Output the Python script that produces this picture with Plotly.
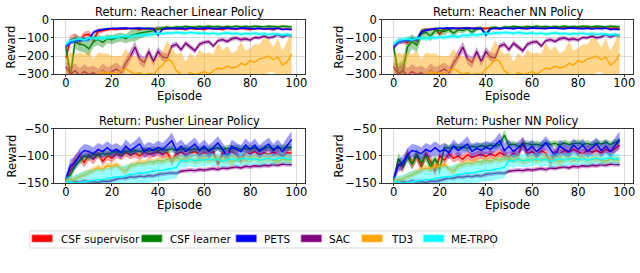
import plotly.graph_objects as go

# ---------------- data ----------------
EPISODES = list(range(0, 100, 2))

SERIES_NAMES = ["CSF supervisor", "CSF learner", "PETS", "SAC", "TD3", "ME-TRPO"]

PANEL_TITLES = ["Return: Reacher Linear Policy", "Return: Reacher NN Policy",
                "Return: Pusher Linear Policy", "Return: Pusher NN Policy"]
X_LABEL = "Episode"
Y_LABEL = "Reward"

X_TICKS = [0, 20, 40, 60, 80, 100]
REACHER_Y_TICKS = [0, -100, -200, -300]
REACHER_Y_LABELS = ["0", "\u2212100", "\u2212200", "\u2212300"]
PUSHER_Y_TICKS = [-50, -100, -150]
PUSHER_Y_LABELS = ["\u221250", "\u2212100", "\u2212150"]

# ---- Reacher (shared baselines) ----
REACHER_PETS = [-148, -125, -118, -112, -108, -110, -70, -58, -52, -50,
                -48, -47, -50, -46, -49, -47, -46, -49, -47, -50,
                -85, -52, -47, -49, -46, -47, -50, -46, -48, -50,
                -46, -48, -47, -50, -46, -48, -47, -50, -46, -48,
                -47, -50, -47, -52, -48, -50, -47, -55, -52, -55]
REACHER_PETS_SD = [12, 12, 10, 10, 10, 10, 12, 8, 6, 5,
                   5, 5, 5, 5, 5, 5, 5, 5, 5, 5,
                   10, 5, 5, 5, 5, 5, 5, 5, 5, 5,
                   5, 5, 5, 5, 5, 5, 5, 5, 5, 5,
                   5, 5, 5, 5, 5, 5, 5, 6, 6, 6]

REACHER_SAC = [-258, -300, -280, -305, -285, -300, -290, -310, -280, -300,
               -285, -270, -290, -240, -200, -150, -215, -235, -175, -230,
               -175, -205, -210, -145, -135, -165, -130, -150, -170, -135,
               -125, -120, -145, -115, -110, -120, -105, -100, -110, -105,
               -112, -98, -100, -90, -100, -95, -82, -95, -85, -90]
REACHER_SAC_SD = [30, 40, 40, 40, 40, 40, 40, 40, 40, 40,
                  35, 35, 35, 30, 30, 30, 30, 30, 25, 25,
                  25, 25, 25, 15, 15, 15, 15, 15, 15, 15,
                  12, 12, 12, 12, 12, 12, 12, 12, 12, 12,
                  10, 10, 10, 10, 10, 10, 10, 10, 10, 10]

REACHER_TD3 = [-330, -320, -310, -330, -320, -310, -325, -300, -285, -295,
               -290, -300, -280, -270, -285, -300, -290, -305, -295, -300,
               -270, -250, -215, -230, -280, -300, -310, -290, -300, -295,
               -285, -300, -280, -265, -270, -255, -265, -260, -240, -250,
               -225, -235, -215, -210, -200, -220, -205, -250, -230, -190]
REACHER_TD3_SD = [130, 140, 120, 150, 130, 140, 110, 120, 100, 110,
                  90, 100, 80, 110, 90, 100, 80, 90, 100, 70,
                  70, 80, 100, 70, 90, 120, 80, 110, 90, 130,
                  100, 120, 90, 140, 100, 110, 80, 90, 120, 80,
                  70, 100, 80, 110, 90, 70, 100, 80, 110, 120]

REACHER_METRPO = [-135, -115, -110, -105, -110, -102, -100, -105, -98, -100,
                  -95, -98, -92, -90, -95, -85, -88, -82, -85, -80,
                  -75, -78, -72, -75, -70, -72, -75, -70, -73, -76,
                  -72, -78, -74, -80, -76, -72, -78, -75, -80, -76,
                  -78, -74, -80, -77, -82, -78, -80, -84, -80, -86]
REACHER_METRPO_SD = [15, 15, 14, 14, 12, 12, 12, 12, 12, 12,
                     12, 12, 12, 12, 12, 12, 12, 12, 12, 12,
                     10, 10, 10, 10, 10, 10, 10, 10, 10, 10,
                     10, 10, 10, 10, 10, 10, 10, 10, 10, 10,
                     10, 10, 10, 10, 10, 10, 10, 10, 10, 10]

# ---- Reacher, policy specific ----
REACHER_LIN_SUP = [-210, -110, -100, -120, -85, -80, -110, -65, -60, -55,
                   -52, -55, -50, -52, -48, -50, -55, -48, -52, -50,
                   -48, -55, -50, -48, -52, -50, -55, -48, -52, -50,
                   -55, -48, -52, -50, -55, -48, -50, -53, -48, -52,
                   -55, -50, -48, -52, -50, -55, -48, -52, -50, -52]
REACHER_LIN_SUP_SD = [30, 25, 25, 25, 20, 20, 20, 15, 10, 8,
                      8, 8, 6, 6, 6, 6, 6, 6, 6, 6,
                      6, 6, 6, 6, 6, 6, 6, 6, 6, 6,
                      6, 6, 6, 6, 6, 6, 6, 6, 6, 6,
                      6, 6, 6, 6, 6, 6, 6, 6, 6, 6]

REACHER_LIN_LRN = [-150, -310, -120, -135, -140, -160, -120, -110, -125, -105,
                   -110, -100, -95, -105, -90, -80, -75, -70, -65, -60,
                   -50, -45, -42, -45, -40, -42, -38, -40, -42, -38,
                   -40, -36, -40, -38, -42, -38, -40, -36, -40, -38,
                   -40, -36, -38, -40, -36, -38, -40, -36, -38, -40]
REACHER_LIN_LRN_SD = [20, 60, 40, 40, 40, 40, 30, 30, 30, 25,
                      25, 25, 25, 25, 30, 40, 30, 25, 20, 20,
                      15, 10, 10, 8, 8, 8, 8, 8, 8, 8,
                      8, 8, 8, 8, 8, 8, 8, 8, 8, 8,
                      8, 8, 8, 8, 8, 8, 8, 8, 8, 8]

REACHER_NN_SUP = [-155, -120, -118, -125, -110, -115, -65, -55, -52, -50,
                  -80, -50, -48, -50, -47, -49, -46, -48, -50, -47,
                  -49, -46, -48, -50, -47, -45, -48, -46, -49, -47,
                  -45, -48, -46, -44, -47, -45, -48, -46, -44, -47,
                  -45, -48, -46, -44, -47, -45, -48, -46, -47, -50]
REACHER_NN_SUP_SD = [20, 15, 15, 15, 15, 15, 15, 10, 8, 8,
                     20, 8, 6, 6, 6, 6, 6, 6, 6, 6,
                     6, 6, 6, 6, 6, 6, 6, 6, 6, 6,
                     6, 6, 6, 6, 6, 6, 6, 6, 6, 6,
                     6, 6, 6, 6, 6, 6, 6, 6, 6, 6]

REACHER_NN_LRN = [-150, -300, -280, -150, -120, -140, -80, -70, -90, -60,
                  -60, -65, -55, -75, -55, -60, -50, -70, -50, -45,
                  -80, -45, -42, -50, -40, -42, -38, -40, -42, -38,
                  -40, -36, -40, -38, -42, -38, -40, -36, -40, -38,
                  -40, -36, -38, -40, -36, -38, -40, -36, -38, -40]
REACHER_NN_LRN_SD = [20, 60, 60, 50, 40, 40, 30, 25, 30, 20,
                     20, 20, 15, 20, 15, 15, 12, 15, 12, 10,
                     15, 8, 8, 8, 8, 8, 8, 8, 8, 8,
                     8, 8, 8, 8, 8, 8, 8, 8, 8, 8,
                     8, 8, 8, 8, 8, 8, 8, 8, 8, 8]

# ---- Pusher (shared baselines) ----
PUSHER_PETS = [-142, -118, -112, -98, -90, -92, -96, -88, -92, -85,
               -92, -88, -94, -82, -90, -84, -78, -92, -86, -90,
               -84, -88, -80, -72, -90, -82, -92, -85, -78, -90,
               -82, -92, -85, -76, -88, -100, -82, -88, -92, -80,
               -88, -80, -92, -85, -78, -90, -82, -92, -80, -70]
PUSHER_PETS_SD = [8, 12, 12, 12, 12, 12, 12, 12, 12, 12,
                  12, 12, 12, 12, 12, 12, 14, 12, 12, 12,
                  12, 12, 12, 15, 14, 12, 12, 12, 12, 12,
                  12, 12, 12, 12, 12, 12, 12, 12, 12, 12,
                  12, 12, 12, 12, 12, 12, 12, 12, 14, 15]

PUSHER_SAC = [-146, -148, -147, -149, -146, -148, -147, -149, -146, -147,
              -145, -143, -140, -141, -138, -139, -137, -138, -136, -137,
              -134, -133, -132, -131, -132, -128, -127, -126, -127, -125,
              -126, -124, -123, -125, -122, -123, -121, -120, -122, -119,
              -120, -118, -119, -117, -118, -116, -117, -115, -116, -116]
PUSHER_SAC_SD = [4, 4, 4, 4, 4, 4, 4, 4, 4, 4,
                 4, 4, 4, 4, 4, 4, 4, 4, 4, 4,
                 4, 4, 4, 4, 4, 4, 4, 4, 4, 4,
                 4, 4, 4, 4, 4, 4, 4, 4, 4, 4,
                 4, 4, 4, 4, 4, 4, 4, 4, 4, 4]

PUSHER_TD3 = [-145, -144, -142, -138, -135, -130, -126, -122, -125, -118,
              -120, -116, -124, -128, -118, -116, -112, -114, -110, -112,
              -108, -110, -106, -108, -104, -106, -108, -105, -110, -107,
              -105, -108, -106, -104, -108, -106, -110, -107, -105, -108,
              -106, -104, -108, -106, -105, -108, -110, -106, -107, -108]
PUSHER_TD3_SD = [5, 5, 6, 6, 6, 6, 6, 6, 6, 6,
                 6, 6, 6, 8, 6, 6, 6, 6, 6, 6,
                 6, 6, 6, 6, 6, 6, 6, 6, 6, 6,
                 6, 6, 6, 6, 6, 8, 10, 6, 6, 6,
                 6, 6, 6, 6, 6, 6, 6, 6, 6, 6]

PUSHER_METRPO = [-146, -148, -150, -149, -147, -146, -145, -143, -144, -141,
                 -140, -138, -139, -136, -134, -133, -131, -132, -129, -128,
                 -126, -127, -124, -123, -121, -108, -110, -106, -109, -107,
                 -108, -105, -108, -106, -110, -107, -105, -108, -106, -104,
                 -107, -105, -108, -106, -104, -107, -105, -103, -106, -105]
PUSHER_METRPO_SD = [8, 12, 15, 18, 20, 20, 20, 20, 20, 20,
                    20, 20, 20, 20, 20, 20, 20, 20, 20, 20,
                    20, 20, 20, 20, 20, 12, 12, 12, 12, 12,
                    12, 12, 12, 12, 12, 12, 12, 12, 12, 12,
                    10, 10, 10, 10, 10, 10, 10, 10, 10, 10]

# ---- Pusher, policy specific ----
PUSHER_LIN_SUP = [-145, -125, -108, -100, -112, -98, -106, -95, -110, -100,
                  -104, -96, -100, -94, -98, -95, -100, -93, -97, -95,
                  -92, -97, -94, -110, -96, -93, -98, -95, -92, -98,
                  -94, -96, -92, -115, -95, -98, -93, -97, -108, -94,
                  -96, -92, -98, -94, -97, -93, -96, -100, -94, -95]
PUSHER_LIN_SUP_SD = [5, 10, 10, 10, 10, 10, 10, 8, 8, 8,
                     8, 8, 8, 8, 8, 8, 8, 8, 8, 8,
                     8, 8, 8, 8, 8, 8, 8, 8, 8, 8,
                     8, 8, 8, 10, 8, 8, 8, 8, 8, 8,
                     8, 8, 8, 8, 8, 8, 8, 8, 8, 8]

PUSHER_LIN_LRN = [-145, -135, -118, -108, -100, -102, -97, -99, -95, -97,
                  -94, -92, -95, -91, -93, -90, -92, -89, -91, -88,
                  -90, -88, -89, -87, -90, -88, -86, -89, -87, -88,
                  -86, -88, -87, -85, -88, -86, -87, -85, -88, -86,
                  -87, -85, -88, -86, -84, -87, -85, -86, -84, -85]
PUSHER_LIN_LRN_SD = [4, 8, 8, 8, 7, 7, 6, 6, 6, 6,
                     6, 6, 6, 6, 6, 6, 6, 6, 6, 6,
                     6, 6, 6, 6, 6, 6, 6, 6, 6, 6,
                     6, 6, 6, 6, 6, 6, 6, 6, 6, 6,
                     6, 6, 6, 6, 6, 6, 6, 6, 6, 6]

PUSHER_NN_SUP = [-145, -115, -120, -95, -115, -100, -120, -95, -110, -128,
                 -100, -108, -96, -104, -100, -106, -98, -103, -100, -97,
                 -101, -96, -100, -94, -98, -102, -95, -99, -75, -96,
                 -92, -98, -90, -95, -112, -92, -96, -90, -94, -88,
                 -92, -96, -89, -93, -90, -94, -88, -92, -86, -80]
PUSHER_NN_SUP_SD = [5, 10, 10, 10, 10, 10, 10, 10, 10, 10,
                    8, 8, 8, 8, 8, 8, 8, 8, 8, 8,
                    8, 8, 8, 8, 8, 8, 8, 8, 12, 8,
                    8, 8, 8, 8, 10, 8, 8, 8, 8, 8,
                    8, 8, 8, 8, 8, 8, 8, 8, 8, 8]

PUSHER_NN_LRN = [-145, -105, -118, -100, -115, -96, -112, -100, -120, -105,
                 -125, -84, -86, -82, -85, -83, -86, -82, -84, -81,
                 -83, -80, -82, -79, -62, -80, -78, -82, -79, -77,
                 -80, -78, -81, -76, -79, -77, -80, -76, -79, -78,
                 -76, -79, -77, -80, -76, -78, -75, -79, -76, -72]
PUSHER_NN_LRN_SD = [5, 10, 10, 10, 10, 10, 10, 10, 10, 10,
                    10, 8, 6, 6, 6, 6, 6, 6, 6, 6,
                    6, 6, 6, 6, 10, 6, 6, 6, 6, 6,
                    6, 6, 6, 6, 6, 6, 6, 6, 6, 6,
                    6, 6, 6, 6, 6, 6, 6, 6, 6, 6]

# ---------------- styling ----------------
LINE_COLORS = ["#ff0000", "#008000", "#0000ff", "#800080", "#ffa500", "#00ffff"]
BAND_COLORS = ["rgba(255,0,0,0.38)", "rgba(0,128,0,0.38)", "rgba(0,0,255,0.38)",
               "rgba(128,0,128,0.38)", "rgba(255,165,0,0.45)", "rgba(0,255,255,0.4)"]
FONT = "DejaVu Sans"
W, H = 640, 273
TXT = 11.5

PANELS = [
    dict(title=PANEL_TITLES[0],
         series=[(REACHER_LIN_SUP, REACHER_LIN_SUP_SD), (REACHER_LIN_LRN, REACHER_LIN_LRN_SD),
                 (REACHER_PETS, REACHER_PETS_SD), (REACHER_SAC, REACHER_SAC_SD),
                 (REACHER_TD3, REACHER_TD3_SD), (REACHER_METRPO, REACHER_METRPO_SD)],
         yr=[-300, 0], yt=REACHER_Y_TICKS, yl=REACHER_Y_LABELS,
         xpx=(54.5, 306), ypx=(13.3, 71), ylab_x=11.5),
    dict(title=PANEL_TITLES[1],
         series=[(REACHER_NN_SUP, REACHER_NN_SUP_SD), (REACHER_NN_LRN, REACHER_NN_LRN_SD),
                 (REACHER_PETS, REACHER_PETS_SD), (REACHER_SAC, REACHER_SAC_SD),
                 (REACHER_TD3, REACHER_TD3_SD), (REACHER_METRPO, REACHER_METRPO_SD)],
         yr=[-300, 0], yt=REACHER_Y_TICKS, yl=REACHER_Y_LABELS,
         xpx=(383.3, 635), ypx=(13.3, 71), ylab_x=340.5),
    dict(title=PANEL_TITLES[2],
         series=[(PUSHER_LIN_SUP, PUSHER_LIN_SUP_SD), (PUSHER_LIN_LRN, PUSHER_LIN_LRN_SD),
                 (PUSHER_PETS, PUSHER_PETS_SD), (PUSHER_SAC, PUSHER_SAC_SD),
                 (PUSHER_TD3, PUSHER_TD3_SD), (PUSHER_METRPO, PUSHER_METRPO_SD)],
         yr=[-150, -50], yt=PUSHER_Y_TICKS, yl=PUSHER_Y_LABELS,
         xpx=(54.5, 306), ypx=(128.3, 185.7), ylab_x=11.5),
    dict(title=PANEL_TITLES[3],
         series=[(PUSHER_NN_SUP, PUSHER_NN_SUP_SD), (PUSHER_NN_LRN, PUSHER_NN_LRN_SD),
                 (PUSHER_PETS, PUSHER_PETS_SD), (PUSHER_SAC, PUSHER_SAC_SD),
                 (PUSHER_TD3, PUSHER_TD3_SD), (PUSHER_METRPO, PUSHER_METRPO_SD)],
         yr=[-150, -50], yt=PUSHER_Y_TICKS, yl=PUSHER_Y_LABELS,
         xpx=(383.3, 635), ypx=(128.3, 185.7), ylab_x=340.5),
]


def px_x(v):
    return v / W


def px_y(v):
    return 1 - v / H


fig = go.Figure()
annotations = []
shapes = []
layout = dict(width=W, height=H, margin=dict(l=0, r=0, t=0, b=0),
              paper_bgcolor="white", plot_bgcolor="white",
              font=dict(family=FONT, size=TXT, color="black"),
              showlegend=False, hovermode=False)

for i, p in enumerate(PANELS, start=1):
    xa, ya = (f"x{i}", f"y{i}") if i > 1 else ("x", "y")
    for k, (mean, sd) in enumerate(p["series"]):
        assert len(mean) == len(EPISODES) and len(sd) == len(EPISODES)
        upper = [m + s for m, s in zip(mean, sd)]
        lower = [m - s for m, s in zip(mean, sd)]
        fig.add_trace(go.Scatter(x=EPISODES + EPISODES[::-1], y=upper + lower[::-1],
                                 fill="toself", fillcolor=BAND_COLORS[k], line=dict(width=0),
                                 mode="lines", hoverinfo="skip", showlegend=False,
                                 xaxis=xa, yaxis=ya))
        fig.add_trace(go.Scatter(x=EPISODES, y=mean, mode="lines",
                                 line=dict(color=LINE_COLORS[k], width=1.4),
                                 name=SERIES_NAMES[k], showlegend=False,
                                 xaxis=xa, yaxis=ya))
    x0, x1 = p["xpx"]
    y0, y1 = p["ypx"]
    axis_common = dict(showline=True, mirror=True, linecolor="#333333", linewidth=1,
                       showgrid=True, gridcolor="#d4d4d4", gridwidth=0.8,
                       ticks="outside", ticklen=2, tickcolor="#333333",
                       zeroline=False, tickfont=dict(size=TXT))
    sfx = str(i) if i > 1 else ""
    layout["xaxis" + sfx] = dict(domain=[px_x(x0), px_x(x1)], anchor=ya, range=[-5, 103.8],
                                 tickvals=X_TICKS, ticktext=[str(t) for t in X_TICKS],
                                 ticklabelstandoff=-4, **axis_common)
    layout["yaxis" + sfx] = dict(domain=[px_y(y1), px_y(y0)], anchor=xa, range=p["yr"],
                                 tickvals=p["yt"], ticktext=p["yl"], **axis_common)
    # panel title
    annotations.append(dict(text=p["title"], x=px_x((x0 + x1) / 2), y=px_y(y0 - 7.8),
                            xref="paper", yref="paper", xanchor="center", yanchor="middle",
                            showarrow=False, font=dict(size=TXT)))
    # axis titles
    annotations.append(dict(text=X_LABEL, x=px_x((x0 + x1) / 2), y=px_y(y1 + 22.5),
                            xref="paper", yref="paper", xanchor="center", yanchor="middle",
                            showarrow=False, font=dict(size=TXT)))
    annotations.append(dict(text=Y_LABEL, x=px_x(p["ylab_x"]), y=px_y((y0 + y1) / 2),
                            xref="paper", yref="paper", xanchor="center", yanchor="middle",
                            textangle=-90, showarrow=False, font=dict(size=TXT)))

# ---- legend box (drawn to match the reference's bottom legend) ----
LEG_BOX = (30, 236, 495, 254)
LEG_PATCH_X = [32.3, 142.3, 237, 302.3, 363.3, 425]
LEG_TEXT_X = [58.7, 168.3, 263.3, 328.3, 390, 450.7]
LEG_PATCH_Y = (240.5, 247.5)
LEG_TEXT_Y = 244.2

shapes.append(dict(type="rect", xref="paper", yref="paper",
                   x0=px_x(LEG_BOX[0]), x1=px_x(LEG_BOX[2]),
                   y0=px_y(LEG_BOX[3]), y1=px_y(LEG_BOX[1]),
                   line=dict(color="#d9d9d9", width=1), fillcolor="white", layer="above"))
for k, name in enumerate(SERIES_NAMES):
    shapes.append(dict(type="rect", xref="paper", yref="paper",
                       x0=px_x(LEG_PATCH_X[k]), x1=px_x(LEG_PATCH_X[k] + 20),
                       y0=px_y(LEG_PATCH_Y[1]), y1=px_y(LEG_PATCH_Y[0]),
                       line=dict(color=BAND_COLORS[k], width=1.6),
                       fillcolor=LINE_COLORS[k], layer="above"))
    annotations.append(dict(text=name, x=px_x(LEG_TEXT_X[k]), y=px_y(LEG_TEXT_Y),
                            xref="paper", yref="paper", xanchor="left", yanchor="middle",
                            showarrow=False, font=dict(size=10.5)))

layout["annotations"] = annotations
layout["shapes"] = shapes
fig.update_layout(**layout)
fig.write_html("out.html", config={"displayModeBar": False, "staticPlot": True},
               post_script="document.body.style.margin='0px';document.body.style.overflow='hidden';")
